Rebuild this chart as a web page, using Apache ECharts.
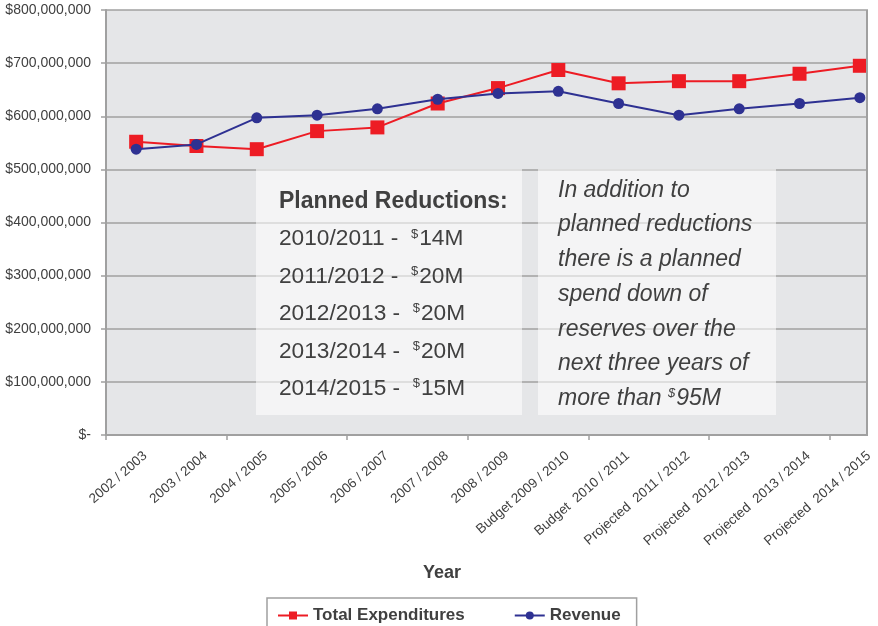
<!DOCTYPE html>
<html>
<head>
<meta charset="utf-8">
<script src="https://cdn.jsdelivr.net/npm/echarts@6/dist/echarts.min.js"></script>
<style>
  html, body { margin: 0; padding: 0; background: #fff; }
  #chart { width: 878px; height: 626px; }
</style>
</head>
<body>
<div id="chart"></div>
<script>
// categories and values (dollars)
var years = ['2002 / 2003', '2003 / 2004', '2004 / 2005', '2005 / 2006', '2006 / 2007',
  '2007 / 2008', '2008 / 2009', 'Budget 2009 / 2010', 'Budget  2010 / 2011',
  'Projected  2011 / 2012', 'Projected  2012 / 2013', 'Projected  2013 / 2014',
  'Projected  2014 / 2015'];
var totalExpenditures = [552e6, 544e6, 538e6, 572e6, 579e6, 624e6, 653e6, 687e6, 662e6, 666e6, 666e6, 680e6, 695e6];
var revenue = [538e6, 547e6, 597e6, 602e6, 614e6, 632e6, 643e6, 647e6, 624e6, 602e6, 614e6, 624e6, 635e6];

var reductionYears = ['2010/2011', '2011/2012', '2012/2013', '2013/2014', '2014/2015'];
var reductionAmounts = ['14M', '20M', '20M', '20M', '15M'];
var noteLines = ['In addition to', 'planned reductions', 'there is a planned',
  'spend down of', 'reserves over the', 'next three years of'];
var noteLast = ['more than ', '$', '95M'];

var FONT = '"Liberation Sans", Arial, Helvetica, sans-serif';
var GRID = '#a0a0a0';
var TXT = '#404040';

function money(v) {
  if (v === 0) return '$-';
  return '$' + v.toLocaleString('en-US');
}

// text for the two note boxes
var boxOneText = '{b|Planned Reductions:}';
for (var i = 0; i < reductionYears.length; i++) {
  boxOneText += '\n{t|' + reductionYears[i] + ' -  }{s|$}{t|' + reductionAmounts[i] + '}';
}
var boxTwoText = '';
for (var j = 0; j < noteLines.length; j++) {
  boxTwoText += '{t|' + noteLines[j] + '}\n';
}
boxTwoText += '{t|' + noteLast[0] + '}{s|' + noteLast[1] + '}{t|' + noteLast[2] + '}';

var chart = echarts.init(document.getElementById('chart'));

chart.setOption({
  backgroundColor: '#ffffff',
  animation: false,
  textStyle: { fontFamily: FONT },
  grid: {
    left: 106,
    right: -12,
    top: 10,
    bottom: 191,
    outerBoundsMode: 'none',
    containLabel: false,
    show: true,
    backgroundColor: '#e5e6e8',
    borderWidth: 0
  },
  legend: {
    left: 267,
    top: 598,
    padding: [9, 16, 9, 10],
    itemGap: 49,
    itemWidth: 30,
    itemHeight: 10,
    borderColor: GRID,
    borderWidth: 1.5,
    borderRadius: 0,
    textStyle: { fontSize: 17, fontWeight: 'bold', color: TXT, fontFamily: FONT },
    data: ['Total Expenditures', 'Revenue']
  },
  xAxis: {
    type: 'category',
    data: years,
    boundaryGap: true,
    axisLine: { lineStyle: { color: GRID, width: 2 } },
    axisTick: { show: true, interval: 1, length: 5, lineStyle: { color: GRID, width: 1.5 } },
    axisLabel: {
      interval: 0,
      rotate: 41,
      margin: 27,
      padding: [0, -12, 0, 0],
      fontSize: 13.5,
      color: TXT,
      fontFamily: FONT
    }
  },
  yAxis: {
    type: 'value',
    min: 0,
    max: 800000000,
    interval: 100000000,
    axisLine: { show: true, lineStyle: { color: GRID, width: 2 } },
    axisTick: { show: true, length: 5, lineStyle: { color: GRID, width: 1.5 } },
    splitLine: { lineStyle: { color: GRID, width: 1.5 } },
    axisLabel: {
      formatter: money,
      margin: 15,
      fontSize: 14,
      color: TXT,
      fontFamily: FONT
    }
  },
  series: [
    {
      name: 'Total Expenditures',
      type: 'line',
      data: totalExpenditures,
      symbol: 'rect',
      symbolSize: 14,
      color: '#ed1c24',
      lineStyle: { width: 2, color: '#ed1c24' },
      itemStyle: { color: '#ed1c24' },
      z: 3
    },
    {
      name: 'Revenue',
      type: 'line',
      data: revenue,
      symbol: 'circle',
      symbolSize: 11,
      color: '#2e3192',
      lineStyle: { width: 2, color: '#2e3192' },
      itemStyle: { color: '#2e3192' },
      z: 4
    }
  ],
  graphic: [
    // note boxes
    {
      type: 'rect', z: 5,
      shape: { x: 256, y: 169, width: 266, height: 246 },
      style: { fill: 'rgba(255,255,255,0.57)' }
    },
    {
      type: 'rect', z: 5,
      shape: { x: 538, y: 169, width: 238, height: 246 },
      style: { fill: 'rgba(255,255,255,0.57)' }
    },
    {
      type: 'text', z: 6,
      x: 279, y: 183,
      style: {
        text: boxOneText,
        fill: TXT,
        verticalAlign: 'top',
        rich: {
          b: { fontSize: 23, fontWeight: 'bold', fontFamily: FONT, fill: TXT, lineHeight: 37.4 },
          t: { fontSize: 22.7, fontFamily: FONT, fill: TXT, lineHeight: 37.4 },
          s: { fontSize: 13, fontFamily: FONT, fill: TXT, padding: [0, 1, 10, 0] }
        }
      }
    },
    {
      type: 'text', z: 6,
      x: 558, y: 173,
      style: {
        text: boxTwoText,
        fill: TXT,
        verticalAlign: 'top',
        rich: {
          t: { fontSize: 23, fontStyle: 'italic', fontFamily: FONT, fill: TXT, lineHeight: 34.7 },
          s: { fontSize: 13, fontStyle: 'italic', fontFamily: FONT, fill: TXT, padding: [0, 1, 10, 0] }
        }
      }
    },
    // cropped right edge of the plot area
    {
      type: 'rect', z: 20,
      shape: { x: 868, y: 0, width: 12, height: 437 },
      style: { fill: '#ffffff' }
    },
    {
      type: 'line', z: 21,
      shape: { x1: 867, y1: 10, x2: 867, y2: 436 },
      style: { stroke: GRID, lineWidth: 2 }
    },
    // axis title
    {
      type: 'text', z: 6,
      x: 442, y: 573,
      style: {
        text: 'Year',
        fontSize: 18,
        fontWeight: 'bold',
        fontFamily: FONT,
        fill: TXT,
        align: 'center',
        verticalAlign: 'middle'
      }
    }
  ]
});
</script>
</body>
</html>
